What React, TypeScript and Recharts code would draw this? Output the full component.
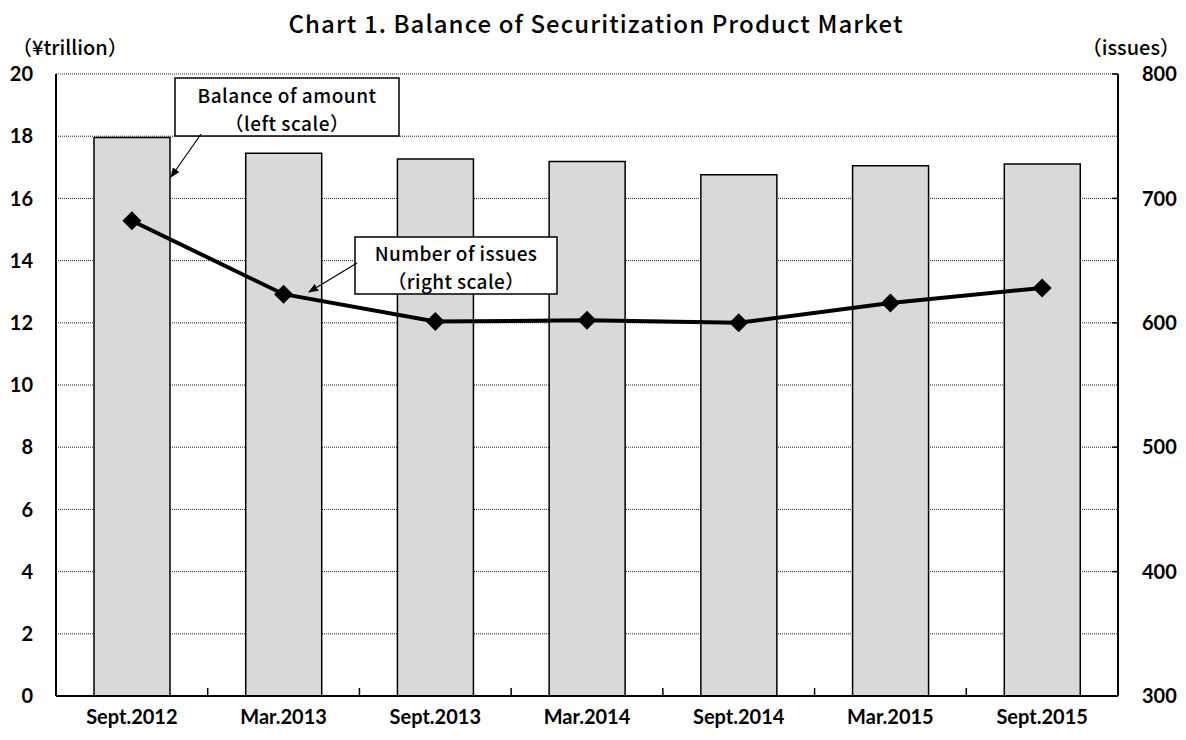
import { ComposedChart, Bar, Line, XAxis, YAxis, CartesianGrid } from 'recharts';

const categories = ['Sept.2012', 'Mar.2013', 'Sept.2013', 'Mar.2014', 'Sept.2014', 'Mar.2015', 'Sept.2015'];
const balance = [17.96, 17.45, 17.27, 17.19, 16.76, 17.05, 17.11];
const issues = [682, 623, 601, 602, 600, 616, 628];
const leftTicks = [0, 2, 4, 6, 8, 10, 12, 14, 16, 18, 20];
const rightTicks = [300, 400, 500, 600, 700, 800];

const data = categories.map((name, i) => ({ name, balance: balance[i], issues: issues[i] }));

const W = 1186;
const H = 740;
const PLOT_LEFT = 56;
const PLOT_RIGHT = 1118;
const PLOT_TOP = 74;
const PLOT_BOTTOM = 696;
const STEP = (PLOT_RIGHT - PLOT_LEFT) / categories.length;

const tickFont = 'Lato, "Open Sans", sans-serif';
const jpFont = '"Noto Sans CJK JP", sans-serif';

const LEFT_MARGIN = 23;
const RIGHT_MARGIN = 24;
const X_MARGIN = 12;

function XTick(props: any) {
  const { x, y, payload, index } = props;
  const axisY = y - X_MARGIN;
  return (
    <g>
      {index < categories.length - 1 && (
        <line x1={x + STEP / 2} x2={x + STEP / 2} y1={axisY} y2={axisY - 8} stroke="#000" strokeWidth={1.5} />
      )}
      <text x={x} y={y} dy="0.8em" textAnchor="middle" fontFamily={tickFont} fontWeight="bold" fontSize={20} fill="#000">
        {payload.value}
      </text>
    </g>
  );
}

function RightTick(props: any) {
  const { x, y, payload } = props;
  const axisX = x - RIGHT_MARGIN;
  return (
    <g>
      <line x1={axisX - 6} x2={axisX} y1={y} y2={y} stroke="#000" strokeWidth={1.5} />
      <text x={x} y={y} dy="0.36em" textAnchor="start" fontFamily={tickFont} fontWeight="bold" fontSize={20} fill="#000">
        {payload.value}
      </text>
    </g>
  );
}

function Diamond(props: any) {
  const { cx, cy } = props;
  const r = 9.5;
  return <polygon points={`${cx},${cy - r} ${cx + r},${cy} ${cx},${cy + r} ${cx - r},${cy}`} fill="#000" />;
}

export default function App() {
  return (
    <div style={{ position: 'absolute', left: 0, top: 0, width: W, height: H, background: '#fff' }}>
      <ComposedChart
        width={W}
        height={H}
        data={data}
        margin={{ top: PLOT_TOP, right: 0, bottom: 0, left: 0 }}
        barCategoryGap={0}
      >
        <CartesianGrid yAxisId="left" vertical={false} stroke="#222" strokeDasharray="1 1" strokeWidth={1} />
        <XAxis
          dataKey="name"
          height={H - PLOT_BOTTOM}
          tickSize={0}
          tickMargin={X_MARGIN}
          tick={<XTick />}
          axisLine={{ stroke: '#000', strokeWidth: 2 }}
          interval={0}
        />
        <YAxis
          yAxisId="left"
          orientation="left"
          width={PLOT_LEFT}
          domain={[0, 20]}
          ticks={leftTicks}
          tickSize={0}
          tickMargin={LEFT_MARGIN}
          tickLine={false}
          axisLine={{ stroke: '#000', strokeWidth: 2 }}
          tick={{ fontFamily: tickFont, fontWeight: 'bold', fontSize: 20, fill: '#000' }}
          interval={0}
        />
        <YAxis
          yAxisId="right"
          orientation="right"
          width={W - PLOT_RIGHT}
          domain={[300, 800]}
          ticks={rightTicks}
          tickSize={0}
          tickMargin={RIGHT_MARGIN}
          tickLine={false}
          axisLine={{ stroke: '#000', strokeWidth: 2 }}
          tick={<RightTick />}
          interval={0}
        />
        <Bar yAxisId="left" dataKey="balance" fill="#d9d9d9" stroke="#000" strokeWidth={1.5} barSize={76} isAnimationActive={false} />
        <Line
          yAxisId="right"
          dataKey="issues"
          type="linear"
          stroke="#000"
          strokeWidth={4}
          dot={<Diamond />}
          activeDot={false}
          isAnimationActive={false}
        />
      </ComposedChart>
      <svg width={W} height={H} style={{ position: 'absolute', left: 0, top: 0, pointerEvents: 'none' }}>
        <defs>
          <marker id="arr" viewBox="0 0 10 10" refX="9" refY="5" markerWidth="10" markerHeight="10" orient="auto" markerUnits="userSpaceOnUse">
            <path d="M0,1 L10,5 L0,9 z" fill="#000" />
          </marker>
        </defs>
        <text x={596} y={22} textAnchor="middle" dominantBaseline="central" fontFamily={jpFont} fontWeight={500} fontSize={24} letterSpacing={1.1} fill="#000">
          Chart 1. Balance of Securitization Product Market
        </text>
        <text x={12} y={46} dominantBaseline="central" fontFamily={jpFont} fontWeight={500} fontSize={20} fill="#000">
          （¥trillion）
        </text>
        <text x={1180} y={46} textAnchor="end" dominantBaseline="central" fontFamily={jpFont} fontWeight={500} fontSize={20} fill="#000">
          （issues）
        </text>

        <rect x={175} y={78} width={224} height={58} fill="#fff" stroke="#000" strokeWidth={1.5} />
        <text x={287} y={94} textAnchor="middle" dominantBaseline="central" fontFamily={jpFont} fontWeight={500} fontSize={19} letterSpacing={0.5} fill="#000">
          Balance of amount
        </text>
        <text x={287} y={122} textAnchor="middle" dominantBaseline="central" fontFamily={jpFont} fontWeight={500} fontSize={19} letterSpacing={0.5} fill="#000">
          （left scale）
        </text>
        <line x1={201} y1={134} x2={171} y2={177} stroke="#000" strokeWidth={1.2} markerEnd="url(#arr)" />

        <rect x={355} y={237} width={202} height={57} fill="#fff" stroke="#000" strokeWidth={1.5} />
        <text x={456} y={252} textAnchor="middle" dominantBaseline="central" fontFamily={jpFont} fontWeight={500} fontSize={19} letterSpacing={0.4} fill="#000">
          Number of issues
        </text>
        <text x={456} y={280} textAnchor="middle" dominantBaseline="central" fontFamily={jpFont} fontWeight={500} fontSize={19} letterSpacing={0.4} fill="#000">
          （right scale）
        </text>
        <line x1={357} y1={263} x2={309} y2={292} stroke="#000" strokeWidth={1.2} markerEnd="url(#arr)" />
      </svg>
    </div>
  );
}
